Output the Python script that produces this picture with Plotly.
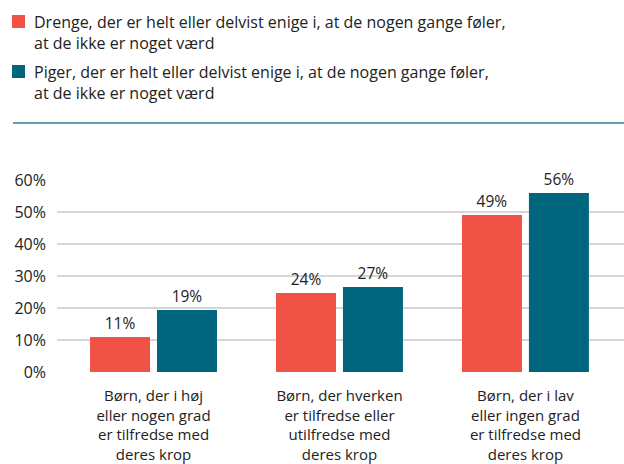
import plotly.graph_objects as go

categories = [
    "Børn, der i høj<br>eller nogen grad<br>er tilfredse med<br>deres krop",
    "Børn, der hverken<br>er tilfredse eller<br>utilfredse med<br>deres krop",
    "Børn, der i lav<br>eller ingen grad<br>er tilfredse med<br>deres krop",
]
boys_name = "Drenge, der er helt eller delvist enige i, at de nogen gange føler,<br>at de ikke er noget værd"
girls_name = "Piger, der er helt eller delvist enige i, at de nogen gange føler,<br>at de ikke er noget værd"
boys_values = [10.9, 24.7, 49.1]
girls_values = [19.4, 26.6, 55.9]
boys_labels = ["11%", "24%", "49%"]
girls_labels = ["19%", "27%", "56%"]
tick_vals = [0, 10, 20, 30, 40, 50, 60]
tick_text = ["0%", "10%", "20%", "30%", "40%", "50%", "60%"]

FONT = "Open Sans"
ORANGE = "#F05345"
TEAL = "#00667E"
TEXT = "#222222"

W, H = 624, 464
ML, MR, MT, MB = 57, 0, 180, 92
PW, PH = W - ML - MR, H - MT - MB


def px_x(x):
    return (x - ML) / PW


def px_y(y):
    return (H - MB - y) / PH


fig = go.Figure()
fig.add_trace(go.Bar(
    x=list(range(len(categories))), y=boys_values, name=boys_name,
    marker=dict(color=ORANGE, line=dict(width=0)),
    text=boys_labels, textposition="outside", cliponaxis=False,
    textfont=dict(family=FONT, size=15.5, color=TEXT),
))
fig.add_trace(go.Bar(
    x=list(range(len(categories))), y=girls_values, name=girls_name,
    marker=dict(color=TEAL, line=dict(width=0)),
    text=girls_labels, textposition="outside", cliponaxis=False,
    textfont=dict(family=FONT, size=15.5, color=TEXT),
))

# legend drawn as squares + text
legend_items = [(boys_name, ORANGE, 15), (girls_name, TEAL, 65)]
shapes = []
annotations = []
for name, color, ytop in legend_items:
    shapes.append(dict(
        type="rect", xref="paper", yref="paper",
        x0=px_x(12), x1=px_x(25), y0=px_y(ytop), y1=px_y(ytop + 13),
        fillcolor=color, line=dict(width=0),
    ))
    annotations.append(dict(
        xref="paper", yref="paper", x=px_x(32), y=px_y(ytop - 6),
        xanchor="left", yanchor="top", align="left", showarrow=False,
        text=name, font=dict(family=FONT, size=16, color=TEXT),
    ))

shapes.append(dict(
    type="line", xref="paper", yref="paper",
    x0=px_x(13), x1=1.0, y0=px_y(123), y1=px_y(123),
    line=dict(color="#2A8496", width=1.5),
))

fig.update_layout(
    width=W, height=H,
    margin=dict(l=ML, r=MR, t=MT, b=MB, autoexpand=False),
    paper_bgcolor="white", plot_bgcolor="white",
    font=dict(family=FONT, size=15, color=TEXT),
    barmode="group", bargap=0.28, bargroupgap=0.104,
    showlegend=False,
    xaxis=dict(
        range=[-0.519, 2.53],
        tickvals=list(range(len(categories))), ticktext=categories,
        showgrid=False, zeroline=False, showline=False, ticks="",
        tickfont=dict(family=FONT, size=15, color=TEXT),
        ticklabelstandoff=13, automargin=False,
        fixedrange=True,
    ),
    yaxis=dict(
        range=[0, 60], tickvals=tick_vals, ticktext=tick_text,
        showgrid=True, gridcolor="#D6D6D6", gridwidth=1.5,
        zeroline=False, showline=False, ticks="",
        tickfont=dict(family=FONT, size=16, color=TEXT),
        ticklabelstandoff=10, automargin=False,
        fixedrange=True,
    ),
    shapes=shapes,
    annotations=annotations,
)

fig.write_html(
    "out.html",
    config={"displayModeBar": False},
    post_script="document.body.style.margin='0';document.body.style.padding='0';",
)
